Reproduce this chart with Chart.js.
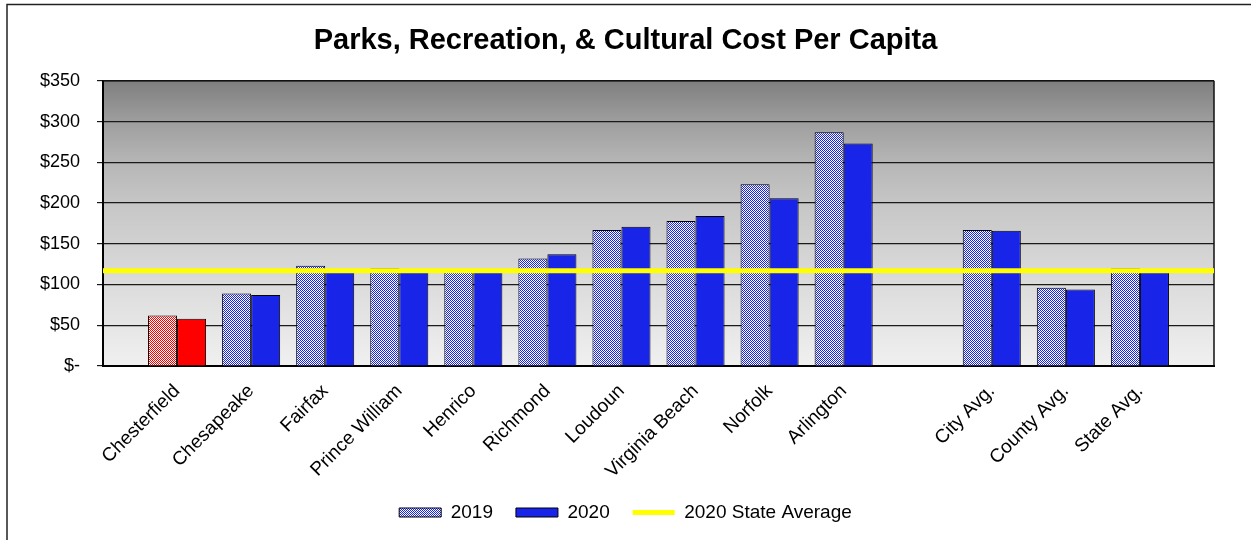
<!DOCTYPE html>
<html>
<head>
<meta charset="utf-8">
<script src="https://cdn.jsdelivr.net/npm/chart.js@4"></script>
<style>
html,body{margin:0;padding:0;background:#fff;}
#wrap{width:1251px;height:540px;position:relative;}
</style>
</head>
<body>
<div id="wrap"><canvas id="c" width="1251" height="540"></canvas></div>
<script>
const titleText = 'Parks, Recreation, & Cultural Cost Per Capita';
const categories = ['', 'Chesterfield', 'Chesapeake', 'Fairfax', 'Prince William', 'Henrico', 'Richmond', 'Loudoun', 'Virginia Beach', 'Norfolk', 'Arlington', '', 'City Avg.', 'County Avg.', 'State Avg.', ''];
const values2019 = [null, 62, 89, 123, 120, 118, 132, 167, 178, 223, 287, null, 167, 96, 120, null];
const values2020 = [null, 58, 87, 117, 116, 117, 137, 171, 184, 206, 273, null, 166, 94, 117, null];
const stateAverage2020 = [117, 117, 117, 117, 117, 117, 117, 117, 117, 117, 117, 117, 117, 117, 117, 117];
const seriesNames = ['2019', '2020', '2020 State Average'];
const yTicks = [0, 50, 100, 150, 200, 250, 300, 350];
const highlightIndex = 1;

function makePattern(color) {
  const c = document.createElement('canvas');
  c.width = 4; c.height = 4;
  const g = c.getContext('2d');
  g.fillStyle = '#ffffff';
  g.fillRect(0, 0, 4, 4);
  g.fillStyle = color;
  for (let i = 0; i < 4; i++) for (let j = 0; j < 4; j++) if ((i + j) % 2 === 0) g.fillRect(i, j, 1, 1);
  return g.createPattern(c, 'repeat');
}
const BLUE = '#1824e8';
const RED = '#ff0000';
const bluePat = makePattern(BLUE);
const redPat = makePattern(RED);

const bg2019 = categories.map((c, i) => i === highlightIndex ? redPat : bluePat);
const bg2020 = categories.map((c, i) => i === highlightIndex ? RED : BLUE);

Chart.defaults.font.family = "'Liberation Sans', Arial, sans-serif";
Chart.defaults.color = '#000';

const bgPlugin = {
  id: 'bgPlugin',
  beforeDraw(chart) {
    const {ctx, chartArea: a} = chart;
    ctx.save();
    const g = ctx.createLinearGradient(0, a.top, 0, a.bottom);
    g.addColorStop(0, '#7f7f7f');
    g.addColorStop(0.143, '#9e9e9e');
    g.addColorStop(0.286, '#b6b6b6');
    g.addColorStop(0.43, '#c6c6c6');
    g.addColorStop(0.571, '#d1d1d1');
    g.addColorStop(0.714, '#dcdcdc');
    g.addColorStop(0.857, '#e6e6e6');
    g.addColorStop(1, '#f0f0f0');
    ctx.fillStyle = g;
    ctx.fillRect(a.left, a.top, a.right - a.left, a.bottom - a.top);
    ctx.strokeStyle = '#222';
    ctx.lineWidth = 1.5;
    ctx.beginPath();
    ctx.moveTo(7, 540);
    ctx.lineTo(7, 4.5);
    ctx.lineTo(1251, 4.5);
    ctx.stroke();
    ctx.restore();
  },
  beforeDatasetsDraw(chart) {
    const {ctx, chartArea: a} = chart;
    ctx.save();
    ctx.strokeStyle = '#111';
    ctx.lineWidth = 1.5;
    ctx.beginPath();
    ctx.moveTo(a.right, a.top);
    ctx.lineTo(a.right, a.bottom);
    ctx.moveTo(a.left, a.top);
    ctx.lineTo(a.right, a.top);
    ctx.stroke();
    ctx.restore();
  }
};

new Chart(document.getElementById('c'), {
  type: 'bar',
  data: {
    labels: categories,
    datasets: [
      { label: seriesNames[0], data: values2019, backgroundColor: bg2019, borderColor: '#000', borderWidth: 1, order: 1, pointStyle: 'rect' },
      { label: seriesNames[1], data: values2020, backgroundColor: bg2020, borderColor: '#000', borderWidth: 1, order: 1, pointStyle: 'rect' },
      { type: 'line', label: seriesNames[2], data: stateAverage2020, borderColor: '#ffff00', backgroundColor: '#ffff00', borderWidth: 5, pointRadius: 0, pointHoverRadius: 0, fill: false, tension: 0, order: 0, pointStyle: 'line' }
    ]
  },
  options: {
    responsive: false,
    animation: false,
    events: [],
    layout: { padding: { left: 0, right: 0, top: 0, bottom: 8 } },
    datasets: { bar: { categoryPercentage: 0.784, barPercentage: 1.0 } },
    scales: {
      x: {
        offset: false,
        grid: { display: false, drawTicks: false },
        border: { display: true, color: '#000', width: 2 },
        ticks: { autoSkip: false, minRotation: 45, maxRotation: 45, padding: 14, font: { size: 19 }, color: '#000' },
        afterFit(scale) { scale.height = 114; }
      },
      y: {
        min: 0, max: 350,
        afterBuildTicks(scale) { scale.ticks = yTicks.map(v => ({ value: v })); },
        grid: { color: '#1a1a1a', lineWidth: 1.2, tickLength: 6, drawTicks: true },
        border: { display: true, color: '#000', width: 2 },
        ticks: { padding: 17, font: { size: 18 }, color: '#000', callback: v => v === 0 ? '$-' : '$' + v },
        afterFit(scale) { scale.width = 103; }
      },
      yRight: {
        position: 'right',
        min: 0, max: 350,
        grid: { display: false, drawTicks: false },
        border: { display: false },
        ticks: { display: false },
        afterFit(scale) { scale.width = 37; }
      }
    },
    plugins: {
      tooltip: { enabled: false },
      title: {
        display: true,
        text: titleText,
        font: { size: 29, weight: 'bold' },
        color: '#000',
        padding: { top: 24, bottom: 22 }
      },
      legend: {
        display: true,
        position: 'bottom',
        labels: {
          usePointStyle: true,
          pointStyleWidth: 42,
          boxHeight: 9,
          padding: 23,
          font: { size: 19 },
          color: '#000',
          generateLabels() {
            return [
              { text: seriesNames[0], fillStyle: bluePat, strokeStyle: '#000', lineWidth: 1, pointStyle: 'rect', datasetIndex: 0, hidden: false, fontColor: '#000' },
              { text: seriesNames[1], fillStyle: BLUE, strokeStyle: '#000', lineWidth: 1, pointStyle: 'rect', datasetIndex: 1, hidden: false, fontColor: '#000' },
              { text: seriesNames[2], fillStyle: '#ffff00', strokeStyle: '#ffff00', lineWidth: 5, pointStyle: 'line', datasetIndex: 2, hidden: false, fontColor: '#000' }
            ];
          }
        }
      }
    }
  },
  plugins: [bgPlugin]
});
</script>
</body>
</html>
